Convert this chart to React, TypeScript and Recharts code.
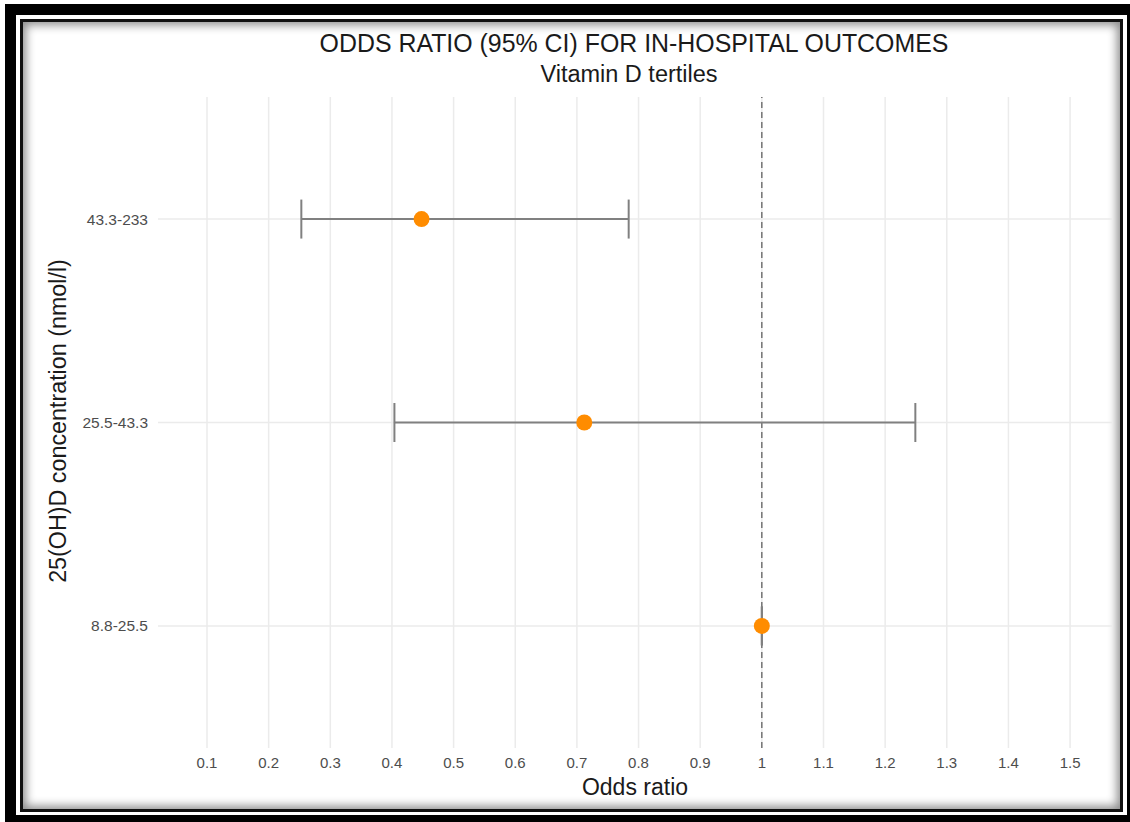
import React from 'react';
import { ScatterChart, Scatter, XAxis, YAxis, ErrorBar, ReferenceLine } from 'recharts';

const categories = ['8.8-25.5', '25.5-43.3', '43.3-233'];
const oddsRatio = [1, 0.712, 0.448];
const ciLow = [1, 0.404, 0.253];
const ciHigh = [1, 1.249, 0.784];
const xTicks = [0.1, 0.2, 0.3, 0.4, 0.5, 0.6, 0.7, 0.8, 0.9, 1, 1.1, 1.2, 1.3, 1.4, 1.5];
const yTicks = [1, 2, 3];

const data = categories.map((c, i) => ({
  name: c,
  y: i + 1,
  x: oddsRatio[i],
  err: [oddsRatio[i] - ciLow[i], ciHigh[i] - oddsRatio[i]],
}));

const FONT = '"Liberation Sans", Arial, Helvetica, sans-serif';

const Dot = (props: any) => {
  const { cx, cy } = props;
  if (cx == null || cy == null) return null;
  return <circle cx={cx} cy={cy} r={8} fill="#FF8C00" />;
};

export default function App() {
  return (
    <div style={{ position: 'absolute', left: 0, top: 0, width: 1130, height: 822, background: '#fff', fontFamily: FONT, overflow: 'hidden' }}>
      {/* outer black frame */}
      <div style={{ position: 'absolute', left: 5, top: 4, width: 1125, height: 818, background: '#000' }} />
      <div style={{ position: 'absolute', left: 16, top: 15, width: 1111, height: 800, background: '#fff' }} />
      {/* inner frame with inset shadow */}
      <div style={{ position: 'absolute', left: 20, top: 19, width: 1103, height: 793, boxSizing: 'border-box', border: '3px solid #111', boxShadow: 'inset 0 0 10px 3px rgba(0,0,0,0.45)', background: '#fff' }} />
      <div style={{ position: 'absolute', left: 0, top: 0 }}>
        <ScatterChart width={1130} height={822} margin={{ top: 97, right: 18, bottom: 44, left: 0 }}>
          <XAxis
            type="number"
            dataKey="x"
            domain={[0.0205, 1.568]}
            ticks={xTicks}
            allowDataOverflow
            axisLine={false}
            tickLine={false}
            tickSize={0}
            tickMargin={9}
            height={30}
            tick={{ fontSize: 15, fill: '#4d4d4d' }}
            tickFormatter={(v: number) => String(v)}
          />
          <YAxis
            type="number"
            dataKey="y"
            domain={[0.4, 3.6]}
            ticks={yTicks}
            allowDataOverflow
            axisLine={false}
            tickLine={false}
            tickSize={0}
            tickMargin={10}
            width={158}
            tick={{ fontSize: 15.5, fill: '#4d4d4d' }}
            tickFormatter={(v: number) => categories[v - 1] ?? ''}
          />
          {xTicks.map((t) => (
            <ReferenceLine key={'gx' + t} x={t} stroke="#ebebeb" strokeWidth={1.5} />
          ))}
          {yTicks.map((t) => (
            <ReferenceLine key={'gy' + t} y={t} stroke="#ebebeb" strokeWidth={1.5} />
          ))}
          <ReferenceLine x={1} stroke="#555" strokeWidth={1.2} strokeDasharray="6 4" />
          <Scatter data={data} shape={<Dot />} isAnimationActive={false}>
            <ErrorBar dataKey="err" direction="x" width={19.5} stroke="#808080" strokeWidth={2} isAnimationActive={false} />
          </Scatter>
        </ScatterChart>
      </div>
      <svg width={1130} height={822} style={{ position: 'absolute', left: 0, top: 0, pointerEvents: 'none' }}>
        <text x={634} y={52} textAnchor="middle" fontSize={24.9} fill="#1a1a1a" fontFamily={FONT}>
          ODDS RATIO (95% CI) FOR IN-HOSPITAL OUTCOMES
        </text>
        <text x={629} y={82} textAnchor="middle" fontSize={23.5} fill="#1a1a1a" fontFamily={FONT}>
          Vitamin D tertiles
        </text>
        <text x={635} y={795} textAnchor="middle" fontSize={23} fill="#1a1a1a" fontFamily={FONT}>
          Odds ratio
        </text>
        <text x={0} y={0} transform="translate(66,421) rotate(-90)" textAnchor="middle" fontSize={23.3} fill="#1a1a1a" fontFamily={FONT}>
          25(OH)D concentration (nmol/l)
        </text>
      </svg>
    </div>
  );
}
